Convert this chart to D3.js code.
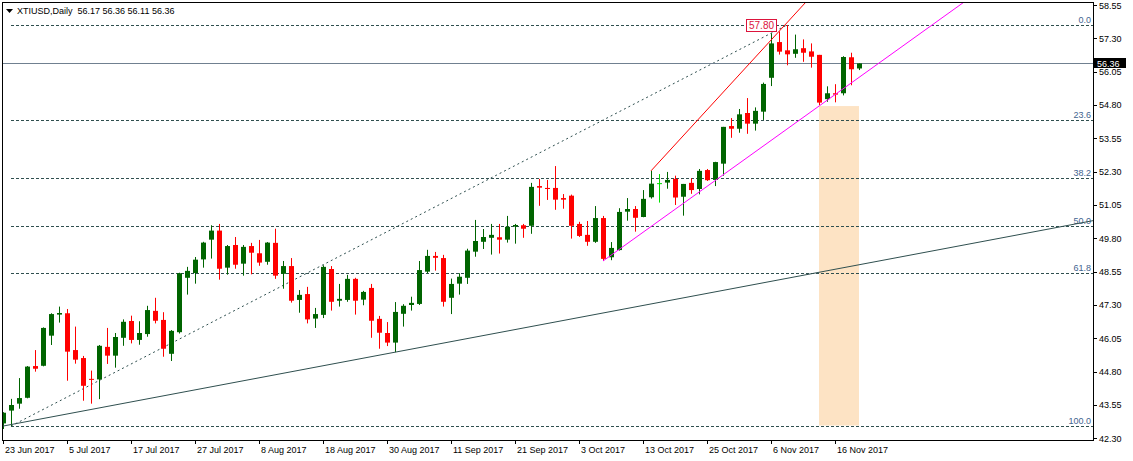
<!DOCTYPE html>
<html>
<head>
<meta charset="utf-8">
<script src="https://cdn.jsdelivr.net/npm/d3@7/dist/d3.min.js"></script>
<style>
html, body { margin: 0; padding: 0; background: #fff; }
svg { display: block; font-family: "Liberation Sans", Arial, sans-serif; }
</style>
</head>
<body>
<div id="chart"></div>
<script>
var symbolTitle = "XTIUSD,Daily";
var lastQuote = [ 56.17, 56.36, 56.11, 56.36 ];

// date, open, high, low, close
var candles = [
  ["2017-06-23", 42.86, 43.28, 42.65, 43.26],
  ["2017-06-26", 43.34, 43.78, 42.76, 43.55],
  ["2017-06-27", 43.60, 44.56, 43.41, 43.81],
  ["2017-06-28", 43.82, 45.01, 43.80, 44.99],
  ["2017-06-29", 45.01, 45.61, 44.80, 44.91],
  ["2017-06-30", 45.02, 46.46, 45.00, 46.44],
  ["2017-07-03", 46.15, 46.99, 45.80, 46.96],
  ["2017-07-04", 46.94, 47.24, 46.64, 47.00],
  ["2017-07-05", 46.99, 47.15, 44.46, 45.55],
  ["2017-07-06", 45.61, 46.49, 45.10, 45.25],
  ["2017-07-07", 45.31, 45.39, 43.71, 44.27],
  ["2017-07-10", 44.53, 44.84, 43.60, 44.50],
  ["2017-07-11", 44.51, 45.80, 43.77, 45.77],
  ["2017-07-12", 45.73, 46.44, 45.09, 45.40],
  ["2017-07-13", 45.40, 46.25, 44.95, 46.10],
  ["2017-07-14", 46.07, 46.76, 45.77, 46.67],
  ["2017-07-17", 46.70, 46.90, 45.86, 45.99],
  ["2017-07-18", 45.99, 46.69, 45.81, 46.25],
  ["2017-07-19", 46.21, 47.27, 46.11, 47.11],
  ["2017-07-20", 47.08, 47.57, 46.61, 46.71],
  ["2017-07-21", 46.74, 47.03, 45.36, 45.66],
  ["2017-07-24", 45.47, 46.36, 45.20, 46.33],
  ["2017-07-25", 46.28, 48.51, 46.23, 48.49],
  ["2017-07-26", 48.32, 48.73, 47.69, 48.58],
  ["2017-07-27", 48.50, 49.10, 48.10, 49.00],
  ["2017-07-28", 49.01, 49.67, 48.70, 49.64],
  ["2017-07-31", 49.75, 50.29, 49.04, 50.09],
  ["2017-08-01", 50.09, 50.34, 48.25, 48.66],
  ["2017-08-02", 48.70, 49.55, 48.44, 49.51],
  ["2017-08-03", 49.55, 49.85, 48.66, 48.81],
  ["2017-08-04", 48.85, 49.55, 48.40, 49.48],
  ["2017-08-07", 49.51, 49.63, 48.45, 49.26],
  ["2017-08-08", 49.24, 49.74, 48.77, 48.89],
  ["2017-08-09", 48.92, 49.66, 48.81, 49.64],
  ["2017-08-10", 49.63, 50.16, 48.28, 48.40],
  ["2017-08-11", 48.47, 48.95, 47.91, 48.76],
  ["2017-08-14", 48.76, 49.06, 47.39, 47.46],
  ["2017-08-15", 47.49, 47.86, 47.01, 47.68],
  ["2017-08-16", 47.71, 47.98, 46.61, 46.76],
  ["2017-08-17", 46.79, 47.19, 46.44, 46.96],
  ["2017-08-18", 46.93, 48.79, 46.81, 48.73],
  ["2017-08-21", 48.65, 48.76, 47.09, 47.42],
  ["2017-08-22", 47.46, 48.09, 47.24, 47.53],
  ["2017-08-23", 47.49, 48.43, 47.42, 48.28],
  ["2017-08-24", 48.28, 48.32, 46.94, 47.46],
  ["2017-08-25", 47.50, 47.83, 47.29, 47.79],
  ["2017-08-28", 47.94, 48.09, 46.07, 46.71],
  ["2017-08-29", 46.78, 46.89, 45.66, 46.26],
  ["2017-08-30", 46.25, 46.66, 45.76, 45.89],
  ["2017-08-31", 45.89, 47.41, 45.53, 47.04],
  ["2017-09-01", 46.97, 47.33, 46.49, 47.27],
  ["2017-09-04", 47.30, 47.61, 47.09, 47.38],
  ["2017-09-05", 47.34, 48.95, 47.30, 48.61],
  ["2017-09-06", 48.55, 49.37, 48.49, 49.14],
  ["2017-09-07", 49.14, 49.29, 48.59, 49.07],
  ["2017-09-08", 49.06, 49.18, 47.24, 47.42],
  ["2017-09-11", 47.57, 48.29, 46.96, 48.09],
  ["2017-09-12", 48.10, 48.49, 47.69, 48.36],
  ["2017-09-13", 48.32, 49.41, 48.09, 49.34],
  ["2017-09-14", 49.30, 50.49, 49.11, 49.70],
  ["2017-09-15", 49.67, 50.15, 49.40, 49.85],
  ["2017-09-18", 49.82, 50.34, 49.19, 49.93],
  ["2017-09-19", 49.84, 50.34, 49.23, 49.75],
  ["2017-09-20", 49.75, 50.64, 49.64, 50.23],
  ["2017-09-21", 50.24, 50.34, 49.60, 50.30],
  ["2017-09-22", 50.29, 50.34, 49.82, 50.16],
  ["2017-09-25", 50.27, 51.88, 49.97, 51.73],
  ["2017-09-26", 51.76, 52.03, 51.02, 51.70],
  ["2017-09-27", 51.69, 51.99, 51.24, 51.65],
  ["2017-09-28", 51.69, 52.51, 50.87, 51.25],
  ["2017-09-29", 51.31, 51.46, 50.91, 51.25],
  ["2017-10-02", 51.40, 51.44, 49.79, 50.27],
  ["2017-10-03", 50.34, 50.42, 49.85, 49.89],
  ["2017-10-04", 49.93, 50.45, 49.52, 49.67],
  ["2017-10-05", 49.67, 51.01, 49.63, 50.56],
  ["2017-10-06", 50.56, 50.64, 48.95, 49.03],
  ["2017-10-09", 49.09, 49.66, 48.98, 49.44],
  ["2017-10-10", 49.36, 50.93, 49.34, 50.79],
  ["2017-10-11", 50.80, 51.31, 50.46, 50.90],
  ["2017-10-12", 50.90, 51.01, 50.05, 50.57],
  ["2017-10-13", 50.60, 51.61, 50.59, 51.28],
  ["2017-10-16", 51.34, 52.33, 51.29, 51.85],
  ["2017-10-17", 51.87, 52.21, 51.14, 51.87],
  ["2017-10-18", 51.89, 52.29, 51.66, 51.99],
  ["2017-10-19", 52.03, 52.15, 51.05, 51.33],
  ["2017-10-20", 51.36, 51.84, 50.65, 51.84],
  ["2017-10-23", 51.88, 52.05, 51.47, 51.61],
  ["2017-10-24", 51.65, 52.40, 51.45, 52.33],
  ["2017-10-25", 52.36, 52.40, 51.95, 51.98],
  ["2017-10-26", 51.99, 52.67, 51.76, 52.66],
  ["2017-10-27", 52.60, 53.98, 52.15, 53.98],
  ["2017-10-30", 54.01, 54.31, 53.57, 53.91],
  ["2017-10-31", 53.91, 54.65, 53.76, 54.45],
  ["2017-11-01", 54.50, 55.06, 53.72, 54.10],
  ["2017-11-02", 54.10, 54.71, 53.84, 54.58],
  ["2017-11-03", 54.55, 55.64, 54.24, 55.59],
  ["2017-11-06", 55.82, 57.49, 55.51, 57.11],
  ["2017-11-07", 57.16, 57.56, 56.69, 56.80],
  ["2017-11-08", 56.85, 57.80, 56.29, 56.70],
  ["2017-11-09", 56.72, 57.44, 56.57, 56.89],
  ["2017-11-10", 56.93, 57.26, 56.42, 56.76],
  ["2017-11-13", 56.81, 57.11, 56.20, 56.61],
  ["2017-11-14", 56.68, 56.68, 54.80, 54.89],
  ["2017-11-15", 55.02, 55.50, 54.92, 55.24],
  ["2017-11-16", 55.24, 55.58, 54.90, 55.19],
  ["2017-11-17", 55.24, 56.63, 55.16, 56.60],
  ["2017-11-20", 56.59, 56.76, 55.54, 56.14],
  ["2017-11-21", 56.17, 56.36, 56.11, 56.36]
];

var tickDates = [ "2017-06-23", "2017-07-05", "2017-07-17", "2017-07-27", "2017-08-08",
  "2017-08-18", "2017-08-30", "2017-09-11", "2017-09-21", "2017-10-03", "2017-10-13",
  "2017-10-25", "2017-11-06", "2017-11-16" ];
var priceTicks = [ 58.55, 57.30, 56.05, 54.80, 53.55, 52.30, 51.05, 49.80, 48.55,
  47.30, 46.05, 44.80, 43.55, 42.30 ];

// fibo retracement anchors (low -> high) and levels
var fibFrom = [ "2017-06-26", 42.76 ];
var fibTo = [ "2017-11-08", 57.80 ];
var fibLevels = [ 0, 23.6, 38.2, 50, 61.8, 100 ];

// trend rays: [date, price] -> [date, price]
var trendBase = [ [ "2017-06-23", 42.76 ], [ "2017-08-31", 45.53 ] ];
var trendRed = [ [ "2017-10-16", 52.33 ], [ "2017-11-07", 57.56 ] ];
var trendMagenta = [ [ "2017-10-06", 48.95 ], [ "2017-11-20", 55.62 ] ];

// rectangle: from date, to date, top price, bottom price
var zoneBox = [ "2017-11-14", "2017-11-21", 54.76, 42.78 ];

mtchart = {};
mtchart.CandleChart = function( parent, width, height ) {
  this._width = width;
  this._height = height;
  this._plot = { left: 2, right: 1093, top: 2, bottom: 440 };
  this._index = {};
  var that = this;
  candles.forEach( function( c, i ) { that._index[ c[ 0 ] ] = i; } );
  this._svg = d3.select( parent ).append( "svg" )
    .attr( "width", width ).attr( "height", height )
    .attr( "xmlns", "http://www.w3.org/2000/svg" );
  // 8px per bar, first bar centered at x=3
  this.x = d3.scaleLinear().domain( [ 0, 136 ] ).range( [ 3, 3 + 8 * 136 ] );
  this.y = d3.scaleLinear().domain( [ 42.30, 58.55 ] ).range( [ 438.33, 5 ] );
  this._svg.append( "defs" ).append( "clipPath" ).attr( "id", "plotclip" )
    .append( "rect" )
    .attr( "x", this._plot.left ).attr( "y", this._plot.top )
    .attr( "width", this._plot.right - this._plot.left )
    .attr( "height", this._plot.bottom - this._plot.top );
};

mtchart.CandleChart.prototype = {

  getLayer: function( name, clipped ) {
    var layer = this._svg.select( "g." + name );
    if( layer.empty() ) {
      layer = this._svg.append( "g" ).attr( "class", name );
      if( clipped ) {
        layer.attr( "clip-path", "url(#plotclip)" );
      }
    }
    return layer;
  },

  xd: function( date ) {
    return this.x( this._index[ date ] );
  },

  render: function() {
    this.renderZone();
    this.renderFibo();
    this.renderPriceLine();
    this.renderCandles();
    this.renderTrends();
    this.renderFrame();
    this.renderAxes();
    this.renderTitle();
  },

  renderZone: function() {
    var layer = this.getLayer( "zone", true );
    var x0 = this.xd( zoneBox[ 0 ] ), x1 = this.xd( zoneBox[ 1 ] );
    layer.append( "rect" )
      .attr( "x", x0 ).attr( "y", this.y( zoneBox[ 2 ] ) )
      .attr( "width", x1 - x0 ).attr( "height", this.y( zoneBox[ 3 ] ) - this.y( zoneBox[ 2 ] ) )
      .attr( "fill", "#fde3c4" );
  },

  renderFibo: function() {
    var that = this;
    var layer = this.getLayer( "fibo", true );
    var low = fibFrom[ 1 ], high = fibTo[ 1 ];
    var xStart = this.xd( fibFrom[ 0 ] );
    layer.selectAll( "line.level" ).data( fibLevels ).enter().append( "line" )
      .attr( "class", "level" )
      .attr( "x1", xStart ).attr( "x2", this._plot.right )
      .attr( "y1", function( d ) { return Math.round( that.y( high - ( high - low ) * d / 100 ) ) + 0.5; } )
      .attr( "y2", function( d ) { return Math.round( that.y( high - ( high - low ) * d / 100 ) ) + 0.5; } )
      .attr( "stroke", "#2f4f4f" ).attr( "stroke-dasharray", "3,2" ).attr( "stroke-width", 1 );
    layer.selectAll( "text.level" ).data( fibLevels ).enter().append( "text" )
      .attr( "class", "level" )
      .attr( "x", this._plot.right - 2 )
      .attr( "y", function( d ) { return that.y( high - ( high - low ) * d / 100 ) - 2; } )
      .attr( "text-anchor", "end" ).attr( "font-size", "9px" ).attr( "fill", "#3f6490" )
      .text( function( d ) { return d.toFixed( 1 ); } );
    // diagonal
    layer.append( "line" )
      .attr( "x1", xStart ).attr( "y1", this.y( low ) )
      .attr( "x2", this.xd( fibTo[ 0 ] ) ).attr( "y2", this.y( high ) )
      .attr( "stroke", "#2f4f4f" ).attr( "stroke-dasharray", "2,3" );
    //layer.append( "line" ).attr( "x1", this.x( 0 ) ).attr( "x2", xStart )
    //  .attr( "y1", this.y( low ) ).attr( "y2", this.y( low ) ).attr( "stroke", "#008000" );
  },

  renderPriceLine: function() {
    var layer = this.getLayer( "priceline", true );
    var py = Math.round( this.y( lastQuote[ 3 ] ) ) + 0.5;
    layer.append( "line" )
      .attr( "x1", this._plot.left ).attr( "x2", this._plot.right )
      .attr( "y1", py ).attr( "y2", py )
      .attr( "stroke", "#708090" ).attr( "stroke-width", 1 );
  },

  renderCandles: function() {
    var that = this;
    var layer = this.getLayer( "candles", true );
    var color = function( d ) {
      if( d[ 1 ] === d[ 4 ] ) return "#00e000";
      return d[ 4 ] > d[ 1 ] ? "#006400" : "#ff0000";
    };
    var g = layer.selectAll( "g.candle" ).data( candles ).enter().append( "g" ).attr( "class", "candle" );
    g.append( "line" )
      .attr( "x1", function( d, i ) { return Math.round( that.x( i ) ) + 0.5; } )
      .attr( "x2", function( d, i ) { return Math.round( that.x( i ) ) + 0.5; } )
      .attr( "y1", function( d ) { return that.y( d[ 2 ] ); } )
      .attr( "y2", function( d ) { return that.y( d[ 3 ] ); } )
      .attr( "stroke", color ).attr( "stroke-width", 1 );
    g.append( "rect" )
      .attr( "x", function( d, i ) { return Math.round( that.x( i ) ) - 2; } )
      .attr( "width", 5 )
      .attr( "y", function( d ) { return that.y( Math.max( d[ 1 ], d[ 4 ] ) ); } )
      .attr( "height", function( d ) { return Math.max( 1, Math.abs( that.y( d[ 1 ] ) - that.y( d[ 4 ] ) ) ); } )
      .attr( "fill", color );
  },

  // ray from a through b, extended to right edge of the plot
  ray: function( a, b ) {
    var i1 = this._index[ a[ 0 ] ], i2 = this._index[ b[ 0 ] ];
    var slope = ( b[ 1 ] - a[ 1 ] ) / ( i2 - i1 );
    var iEnd = this.x.invert( this._plot.right );
    return [ [ this.x( i1 ), this.y( a[ 1 ] ) ], [ this.x( iEnd ), this.y( a[ 1 ] + slope * ( iEnd - i1 ) ) ] ];
  },

  renderTrends: function() {
    var layer = this.getLayer( "trends", true );
    var rays = [
      { p: this.ray( trendBase[ 0 ], trendBase[ 1 ] ), c: "#2f4f4f" },
      { p: this.ray( trendRed[ 0 ], trendRed[ 1 ] ), c: "#ff0000" },
      { p: this.ray( trendMagenta[ 0 ], trendMagenta[ 1 ] ), c: "#ff00ff" }
    ];
    layer.selectAll( "line.trend" ).data( rays ).enter().append( "line" )
      .attr( "class", "trend" )
      .attr( "x1", function( d ) { return d.p[ 0 ][ 0 ]; } )
      .attr( "y1", function( d ) { return d.p[ 0 ][ 1 ]; } )
      .attr( "x2", function( d ) { return d.p[ 1 ][ 0 ]; } )
      .attr( "y2", function( d ) { return d.p[ 1 ][ 1 ]; } )
      .attr( "stroke", function( d ) { return d.c; } ).attr( "stroke-width", 1 );
    // price label of the fibo high
    var hx = this.xd( fibTo[ 0 ] ) - 10, hy = this.y( fibTo[ 1 ] );
    layer.append( "rect" )
      .attr( "x", hx - 30.5 ).attr( "y", Math.round( hy - 6 ) + 0.5 )
      .attr( "width", 30 ).attr( "height", 12 )
      .attr( "fill", "#fff" ).attr( "stroke", "#dc143c" );
    layer.append( "text" )
      .attr( "x", hx - 15.5 ).attr( "y", hy + 4 )
      .attr( "text-anchor", "middle" ).attr( "font-size", "10px" ).attr( "fill", "#dc143c" )
      .text( fibTo[ 1 ].toFixed( 2 ) );
  },

  renderFrame: function() {
    var p = this._plot;
    var layer = this.getLayer( "frame" );
    layer.append( "rect" )
      .attr( "x", p.left + 0.5 ).attr( "y", p.top + 0.5 )
      .attr( "width", p.right - p.left ).attr( "height", p.bottom - p.top )
      .attr( "fill", "none" ).attr( "stroke", "#000" ).attr( "stroke-width", 1 );
  },

  renderAxes: function() {
    var that = this;
    var p = this._plot;
    var layer = this.getLayer( "axes" );
    var fmtIn = d3.timeParse( "%Y-%m-%d" ), fmtOut = d3.timeFormat( "%-d %b %Y" );

    var xa = layer.selectAll( "g.xtick" ).data( tickDates ).enter().append( "g" ).attr( "class", "xtick" );
    xa.append( "line" )
      .attr( "x1", function( d ) { return Math.round( that.xd( d ) ) + 0.5; } )
      .attr( "x2", function( d ) { return Math.round( that.xd( d ) ) + 0.5; } )
      .attr( "y1", p.bottom ).attr( "y2", p.bottom + 4 ).attr( "stroke", "#000" );
    xa.append( "text" )
      .attr( "x", function( d ) { return that.xd( d ) + 2; } )
      .attr( "y", p.bottom + 13 )
      .attr( "font-size", "9px" ).attr( "fill", "#000" )
      .text( function( d ) { return fmtOut( fmtIn( d ) ); } );

    var ya = layer.selectAll( "g.ytick" ).data( priceTicks ).enter().append( "g" ).attr( "class", "ytick" );
    ya.append( "line" )
      .attr( "x1", p.right ).attr( "x2", p.right + 4 )
      .attr( "y1", function( d ) { return Math.round( that.y( d ) ) + 0.5; } )
      .attr( "y2", function( d ) { return Math.round( that.y( d ) ) + 0.5; } )
      .attr( "stroke", "#000" );
    ya.append( "text" )
      .attr( "x", p.right + 6 )
      .attr( "y", function( d ) { return that.y( d ) + 3.5; } )
      .attr( "font-size", "9px" ).attr( "fill", "#000" )
      .text( function( d ) { return d.toFixed( 2 ); } );

    // current price tag
    var py = this.y( lastQuote[ 3 ] );
    layer.append( "rect" )
      .attr( "x", p.right + 1 ).attr( "y", Math.round( py ) - 5 )
      .attr( "width", 32 ).attr( "height", 10 ).attr( "fill", "#000" );
    layer.append( "text" )
      .attr( "x", p.right + 4 ).attr( "y", py + 3.5 )
      .attr( "font-size", "9px" ).attr( "fill", "#fff" )
      .text( lastQuote[ 3 ].toFixed( 2 ) );
  },

  renderTitle: function() {
    var layer = this.getLayer( "title" );
    layer.append( "path" ).attr( "d", "M6,9H13L9.5,13Z" ).attr( "fill", "#000" );
    layer.append( "text" )
      .attr( "x", 17 ).attr( "y", 14 )
      .attr( "font-size", "9px" ).attr( "fill", "#000" )
      .attr( "xml:space", "preserve" )
      .text( symbolTitle + "  " + lastQuote.map( function( v ) { return v.toFixed( 2 ); } ).join( " " ) );
  }

};

var chart = new mtchart.CandleChart( document.getElementById( "chart" ), 1133, 461 );
chart.render();
</script>
</body>
</html>
